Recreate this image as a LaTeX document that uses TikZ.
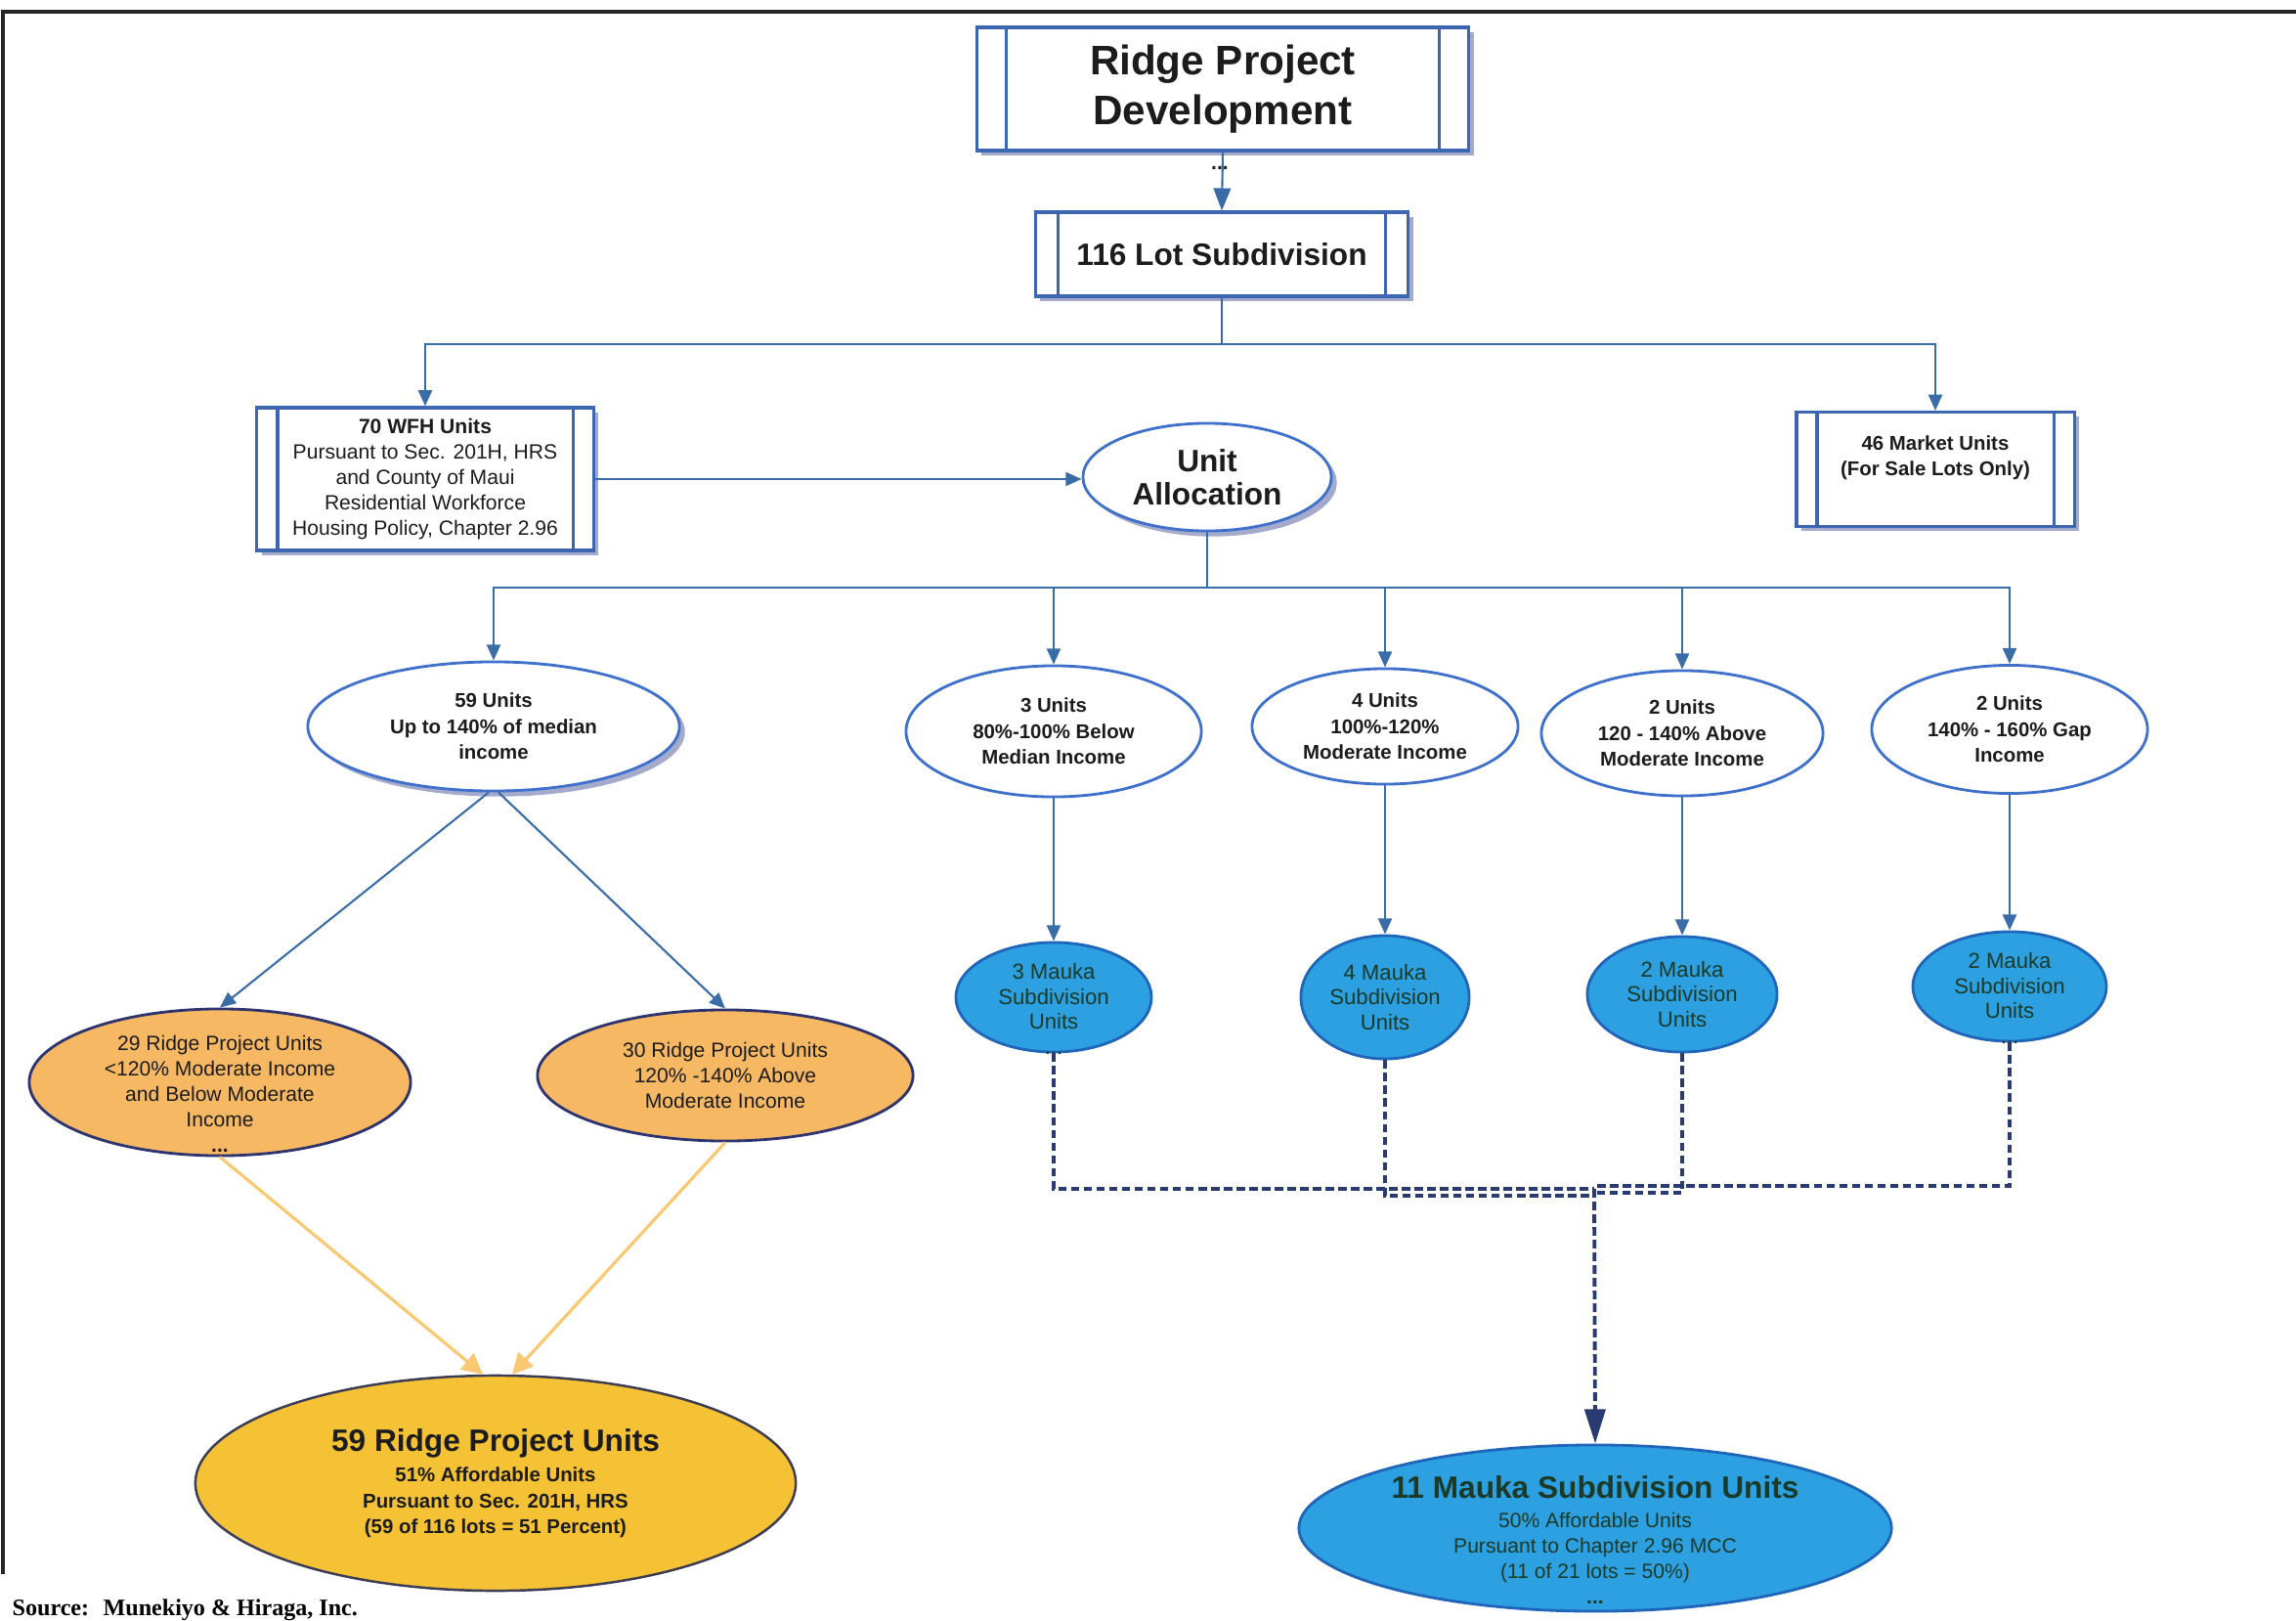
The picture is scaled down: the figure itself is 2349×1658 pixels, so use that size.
\documentclass[tikz,border=0pt]{standalone}
\usepackage{fontspec}
\setmainfont{Liberation Sans}
\newfontfamily\rsSerif{Liberation Serif}
\usetikzlibrary{shapes.geometric,arrows.meta,shadows}
\definecolor{lineblue}{HTML}{3A6DA8}
\definecolor{boxblue}{HTML}{3C67B0}
\definecolor{ellblue}{HTML}{3E70CC}
\definecolor{shadowc}{HTML}{A4AACB}
\definecolor{maukaf}{HTML}{2CA0E0}
\definecolor{maukaline}{HTML}{1F66BA}
\definecolor{maukatext}{HTML}{1B3A28}
\definecolor{orangef}{HTML}{F6B862}
\definecolor{navyline}{HTML}{2E3470}
\definecolor{goldf}{HTML}{F4C234}
\definecolor{goldline}{HTML}{3C3C55}
\definecolor{ylarrow}{HTML}{F9C872}
\definecolor{dotnavy}{HTML}{2A3B72}
\definecolor{txt}{HTML}{1C1C1C}
\newcommand\rsTitle{\fontsize{12}{14.6}\selectfont\bfseries}
\newcommand\rsLot{\fontsize{9}{11}\selectfont\bfseries}
\newcommand\rsUA{\fontsize{9}{9.6}\selectfont\bfseries}
\newcommand\rsSmall{\fontsize{6}{7.4}\selectfont}
\newcommand\rsSmallB{\fontsize{5.8}{7.5}\selectfont\bfseries}
\newcommand\rsMk{\fontsize{6.3}{7.3}\selectfont}
\newcommand\rsHead{\fontsize{9}{11}\selectfont\bfseries}
\newcommand\rsSource{\fontsize{6.85}{8}\selectfont\rsSerif\bfseries}
\newcommand\rsDots{\fontsize{6}{7}\selectfont\bfseries}
\tikzset{
  bline/.style={draw=lineblue, line width=0.6pt},
  barrow/.style={bline, -{Triangle[length=4.6pt,width=4pt]}},
  barrowbig/.style={bline, -{Triangle[length=6.5pt,width=5pt]}},
  yarrow/.style={draw=ylarrow, line width=0.9pt, -{Triangle[length=6pt,width=6pt]}},
  dline/.style={draw=dotnavy, line width=1.1pt, dash pattern=on 2.5pt off 1.2pt},
  darrow/.style={-{Triangle[length=10pt,width=6pt]}},
  dbox/.style={rectangle, draw=boxblue, line width=0.9pt, fill=white, inner sep=0pt,
    drop shadow={shadow xshift=1.4pt, shadow yshift=-1.4pt, fill=shadowc, opacity=1},
    path picture={
      \draw[boxblue, line width=0.9pt] ([xshift=#1]path picture bounding box.north west) -- ([xshift=#1]path picture bounding box.south west);
      \draw[boxblue, line width=0.9pt] ([xshift=-#1]path picture bounding box.north east) -- ([xshift=-#1]path picture bounding box.south east);}},
  wellipse/.style={ellipse, draw=ellblue, line width=0.8pt, fill=white, inner sep=0pt},
  shadowed/.style={drop shadow={shadow xshift=1.6pt, shadow yshift=-1.6pt, fill=shadowc, opacity=1}},
  mellipse/.style={ellipse, draw=maukaline, line width=0.8pt, fill=maukaf, inner sep=0pt},
  oellipse/.style={ellipse, draw=navyline, line width=0.8pt, fill=orangef, inner sep=0pt},
  tsb/.style={font=\rsSmallB, text=txt, align=center},
  tmk/.style={font=\rsMk, text=maukatext, align=center},
  tor/.style={font=\rsSmall, text=txt, align=center},
}
\begin{document}
\begin{tikzpicture}[x=0.01cm,y=-0.01cm]
\useasboundingbox (0,0) rectangle (2349,1658);
% frame
\draw[line width=1.2pt, black!85] (3,1610) -- (3,12) -- (2349,12);

% top boxes
\node[dbox=0.30cm, minimum width=5.03cm, minimum height=1.26cm, align=center, font=\rsTitle, text=txt] (rpd) at (1251,91) {Ridge Project\\Development};
\node[dbox=0.23cm, minimum width=3.81cm, minimum height=0.86cm, font=\rsLot, text=txt] (lot) at (1250,260) {116 Lot Subdivision};
\draw[barrowbig] (rpd.south) -- (lot.north);
\node[font=\rsDots, text=txt, inner sep=0pt] (rpddots) at (1248,172) {...};

\node[dbox=0.21cm, minimum width=3.44cm, minimum height=1.46cm, align=center, font=\rsSmall, text=txt] (wfh) at (435,490) {\textbf{70 WFH Units}\\Pursuant to Sec. 201H, HRS\\and County of Maui\\Residential Workforce\\Housing Policy, Chapter 2.96};
\node[dbox=0.21cm, minimum width=2.84cm, minimum height=1.17cm,
  label={[tsb, yshift=3.4pt]center:{46 Market Units\\(For Sale Lots Only)}}] (mkt) at (1980,480) {};

\coordinate (j1) at (1250,352);
\draw[bline] (lot.south) -- (j1);
\draw[barrow] (j1) -| (wfh.north);
\draw[barrow] (j1) -| (mkt.north);

% unit allocation
\node[wellipse, shadowed, minimum width=2.54cm, minimum height=1.10cm, font=\rsUA, align=center, text=txt] (ua) at (1235,488) {Unit\\Allocation};
\draw[barrow] (wfh.east) -- (wfh.east -| ua.west);

% second level
\node[wellipse, shadowed, minimum width=3.80cm, minimum height=1.32cm,
  label={[tsb]center:{59 Units\\Up to 140\% of median\\income}}] (u59) at (505,743) {};
\node[wellipse, minimum width=3.02cm, minimum height=1.34cm,
  label={[tsb]center:{3 Units\\80\%-100\% Below\\Median Income}}] (u3) at (1078,748) {};
\node[wellipse, minimum width=2.72cm, minimum height=1.18cm,
  label={[tsb]center:{4 Units\\100\%-120\%\\Moderate Income}}] (u4) at (1417,743) {};
\node[wellipse, minimum width=2.88cm, minimum height=1.28cm,
  label={[tsb]center:{2 Units\\120 - 140\% Above\\Moderate Income}}] (u2a) at (1721,750) {};
\node[wellipse, minimum width=2.82cm, minimum height=1.31cm,
  label={[tsb]center:{2 Units\\140\% - 160\% Gap\\Income}}] (u2b) at (2056,746) {};

\coordinate (j2) at (1235,601);
\draw[bline] (ua.south) -- (j2);
\draw[barrow] (j2) -| (u59.north);
\draw[barrow] (j2) -| (u3.north);
\draw[barrow] (j2) -| (u4.north);
\draw[barrow] (j2) -| (u2a.north);
\draw[barrow] (j2) -| (u2b.north);

% mauka small
\node[mellipse, minimum width=2.00cm, minimum height=1.12cm,
  label={[tmk, yshift=-3.4pt]center:{3 Mauka\\Subdivision\\Units\\...}}] (m3) at (1078,1020) {};
\node[mellipse, minimum width=1.72cm, minimum height=1.26cm,
  label={[tmk]center:{4 Mauka\\Subdivision\\Units}}] (m4) at (1417,1020) {};
\node[mellipse, minimum width=1.94cm, minimum height=1.18cm,
  label={[tmk]center:{2 Mauka\\Subdivision\\Units}}] (m2a) at (1721,1017) {};
\node[mellipse, minimum width=1.98cm, minimum height=1.12cm,
  label={[tmk, yshift=-3.4pt]center:{2 Mauka\\Subdivision\\Units\\...}}] (m2b) at (2056,1009) {};

\draw[barrow] (u3.south) -- (m3.north);
\draw[barrow] (u4.south) -- (m4.north);
\draw[barrow] (u2a.south) -- (m2a.north);
\draw[barrow] (u2b.south) -- (m2b.north);

% big mauka
\node[ellipse, draw=maukaline, line width=0.8pt, fill=maukaf, inner sep=0pt, minimum width=6.06cm, minimum height=1.70cm,
  label={[font=\rsSmall, text=maukatext, align=center, yshift=-3.4pt]center:{{\rsHead 11 Mauka Subdivision Units}\\[1.2pt]50\% Affordable Units\\Pursuant to Chapter 2.96 MCC\\(11 of 21 lots = 50\%)\\\textbf{...}}}] (m11) at (1632,1563) {};

\coordinate (jd1) at (1631,1216);
\coordinate (jd2) at (1631,1223);
\coordinate (jd3) at (1631,1220);
\coordinate (jd4) at (1631,1213);
\draw[dline] (m3.south) |- (jd1);
\draw[dline] (m4.south) |- (jd2);
\draw[dline] (m2a.south) |- (jd3);
\draw[dline] (m2b.south) |- (jd4);
\draw[dline, darrow] (jd1) -- (m11.north);

% orange
\node[oellipse, minimum width=3.90cm, minimum height=1.50cm,
  label={[tor, yshift=-3.4pt]center:{29 Ridge Project Units\\<120\% Moderate Income\\and Below Moderate\\Income\\\textbf{...}}}] (o29) at (225,1107) {};
\node[oellipse, minimum width=3.84cm, minimum height=1.34cm,
  label={[tor]center:{30 Ridge Project Units\\120\% -140\% Above\\Moderate Income}}] (o30) at (742,1100) {};

\draw[barrow] ([xshift=-0.05cm]u59.south) -- (o29.north);
\draw[barrow] ([xshift=0.05cm]u59.south) -- (o30.north);

% big yellow
\node[ellipse, draw=goldline, line width=0.7pt, fill=goldf, inner sep=0pt, minimum width=6.14cm, minimum height=2.20cm,
  label={[tsb]center:{{\rsHead 59 Ridge Project Units}\\[1.4pt]51\% Affordable Units\\Pursuant to Sec. 201H, HRS\\(59 of 116 lots = 51 Percent)}}] (y59) at (507,1517) {};

\draw[yarrow] (o29.south) -- ([xshift=-0.13cm]y59.north);
\draw[yarrow] (o30.south) -- ([xshift=0.17cm]y59.north);

% source
\node[anchor=west, font=\rsSource, text=black, inner sep=0pt] (src) at (12,1647) {Source:\hspace{0.6em}Munekiyo \& Hiraga, Inc.};
\end{tikzpicture}
\end{document}
